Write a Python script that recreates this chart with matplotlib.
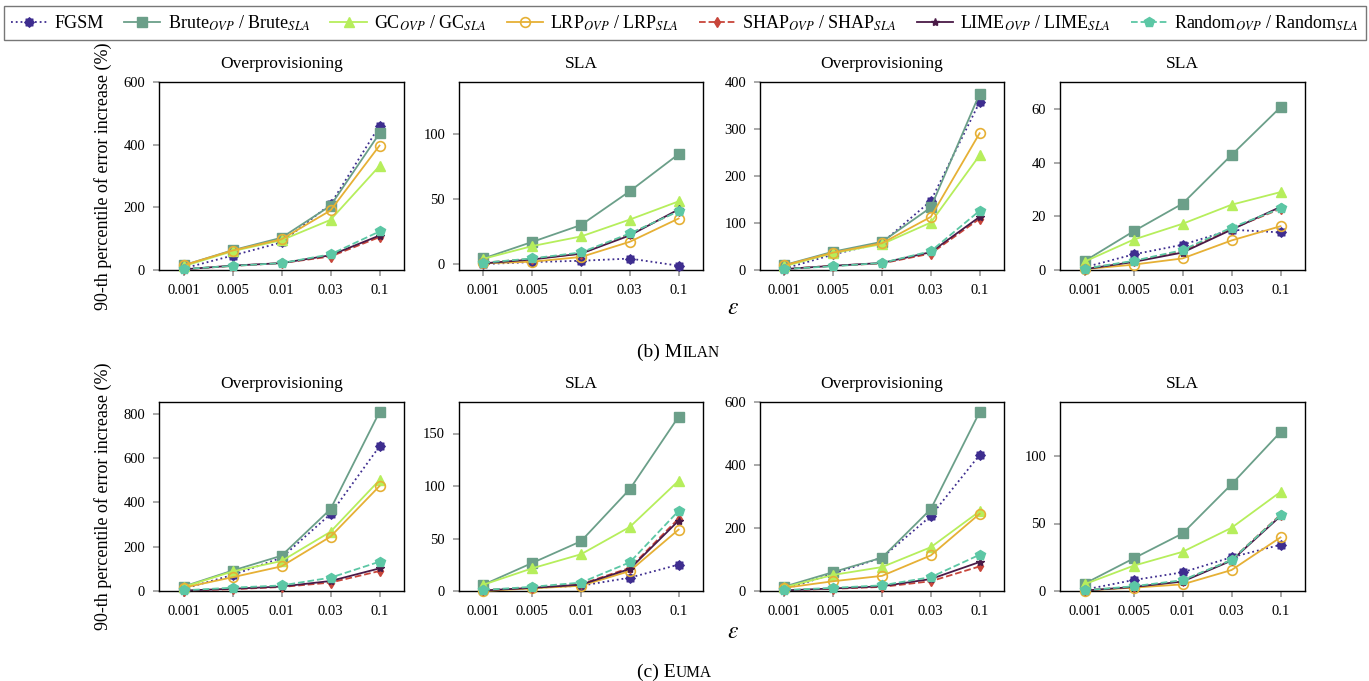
import numpy as np
import matplotlib
matplotlib.use("Agg")
import matplotlib.pyplot as plt
from matplotlib.lines import Line2D

plt.rcParams['font.family'] = ['Liberation Serif', 'DejaVu Serif']
plt.rcParams['mathtext.fontset'] = 'stix'

eps_labels = ["0.001", "0.005", "0.01", "0.03", "0.1"]
methods = ["FGSM", "Brute", "GC", "LRP", "SHAP", "LIME", "Random"]

# (b) MILAN
milan_ovp_1 = {
    "FGSM":   [5, 46, 88, 210, 460],
    "Brute":  [15, 63, 103, 205, 436],
    "GC":     [12, 60, 95, 160, 332],
    "LRP":    [15, 62, 98, 190, 397],
    "SHAP":   [2, 13, 22, 43, 105],
    "LIME":   [2, 14, 22, 47, 110],
    "Random": [3, 13, 22, 50, 123],
}
milan_sla_1 = {
    "FGSM":   [0, 1.5, 2.5, 4.2, -1.3],
    "Brute":  [4.3, 17, 30, 56, 84.5],
    "GC":     [4, 13.8, 21.2, 34.2, 48.2],
    "LRP":    [0.5, 1.8, 5.4, 17.1, 35],
    "SHAP":   [1, 4, 8, 23, 41],
    "LIME":   [0.5, 3.5, 8, 22, 42],
    "Random": [1, 4.3, 8.9, 23.5, 40.6],
}
milan_ovp_2 = {
    "FGSM":   [3, 33, 58, 147, 357],
    "Brute":  [10.6, 39, 60, 133, 375],
    "GC":     [8, 36, 55, 101, 244],
    "LRP":    [10, 37, 57, 113, 291],
    "SHAP":   [2, 9, 14, 35, 109],
    "LIME":   [2, 9, 15, 38, 113],
    "Random": [2, 8, 15, 40, 126],
}
milan_sla_2 = {
    "FGSM":   [1, 5.8, 9.4, 15, 14],
    "Brute":  [3.3, 14.4, 24.7, 42.8, 60.6],
    "GC":     [3.1, 11.3, 17.2, 24.3, 29],
    "LRP":    [0.3, 2, 4.3, 11, 16.3],
    "SHAP":   [0.4, 3.2, 7, 15.3, 22.8],
    "LIME":   [0.3, 3, 6.5, 15, 23.5],
    "Random": [0.5, 3.4, 7.4, 15.8, 22.9],
}

# (c) EUMA
euma_ovp_1 = {
    "FGSM":   [10, 72, 150, 347, 652],
    "Brute":  [20, 92, 159, 369, 807],
    "GC":     [18, 88, 135, 267, 500],
    "LRP":    [15, 62, 111, 245, 473],
    "SHAP":   [2, 8, 18, 38, 90],
    "LIME":   [2, 10, 20, 45, 102],
    "Random": [3, 15, 25, 60, 132],
}
euma_sla_1 = {
    "FGSM":   [0.5, 3, 5, 12.7, 25.1],
    "Brute":  [6, 26.7, 47.4, 97, 166],
    "GC":     [6, 21.6, 35, 61, 105],
    "LRP":    [0, 2.5, 5, 19, 58.5],
    "SHAP":   [1, 3, 6.5, 22, 69],
    "LIME":   [0.5, 3, 6, 21, 67],
    "Random": [1, 4, 8, 27.3, 76.3],
}
euma_ovp_2 = {
    "FGSM":   [5, 55, 106, 238, 432],
    "Brute":  [14, 60, 106, 260, 568],
    "GC":     [12, 51, 76, 139, 253],
    "LRP":    [10, 31, 48, 113, 245],
    "SHAP":   [2, 7, 13, 31, 78],
    "LIME":   [2, 8, 15, 38, 92],
    "Random": [3, 10, 18, 44, 115],
}
euma_sla_2 = {
    "FGSM":   [1, 8.1, 13.8, 25, 34.2],
    "Brute":  [5.4, 24.1, 42.6, 79, 117.7],
    "GC":     [5, 18.7, 29, 46.8, 73.4],
    "LRP":    [0.3, 2.5, 4.9, 15.5, 39.7],
    "SHAP":   [0.5, 3, 7.5, 23, 56.5],
    "LIME":   [0.3, 3, 7, 22.5, 55.5],
    "Random": [0.5, 3.5, 8, 23, 56.2],
}

legend_labels = [
    "FGSM",
    r"Brute$_{OVP}$ / Brute$_{SLA}$",
    r"GC$_{OVP}$ / GC$_{SLA}$",
    r"LRP$_{OVP}$ / LRP$_{SLA}$",
    r"SHAP$_{OVP}$ / SHAP$_{SLA}$",
    r"LIME$_{OVP}$ / LIME$_{SLA}$",
    r"Random$_{OVP}$ / Random$_{SLA}$",
]

# jagged blob for FGSM (like the pgfplots star-ish mark)
ang = np.linspace(0, 2 * np.pi, 17)[:-1]
rad = np.where(np.arange(16) % 2 == 0, 1.0, 0.8)
fgsm_marker = np.column_stack([rad * np.sin(ang), rad * np.cos(ang)])

styles = {
    "FGSM":   dict(color="#3e2d8f", ls=":", marker=fgsm_marker, ms=8, mfc="#3e2d8f", mew=0, lw=1.3),
    "Brute":  dict(color="#6b9f89", ls="-", marker="s", ms=6.5, mfc="#6b9f89", lw=1.3),
    "GC":     dict(color="#b6ee5c", ls="-", marker="^", ms=6.5, mfc="#b6ee5c", lw=1.3),
    "LRP":    dict(color="#e6b035", ls="-", marker="o", ms=7, mfc="none", mew=1.2, lw=1.3),
    "SHAP":   dict(color="#c8453a", ls="--", marker="d", ms=5, mfc="#c8453a", lw=1.3),
    "LIME":   dict(color="#4a1a47", ls="-", marker="*", ms=6, mfc="#4a1a47", lw=1.3),
    "Random": dict(color="#5cc7a5", ls="--", marker="p", ms=7, mfc="#5cc7a5", lw=1.3),
}

panels = [
    (milan_ovp_1, "Overprovisioning", (0, 600), [0, 200, 400, 600]),
    (milan_sla_1, "SLA", (-4.6, 140), [0, 50, 100]),
    (milan_ovp_2, "Overprovisioning", (0, 400), [0, 100, 200, 300, 400]),
    (milan_sla_2, "SLA", (0, 70), [0, 20, 40, 60]),
    (euma_ovp_1, "Overprovisioning", (0, 852), [0, 200, 400, 600, 800]),
    (euma_sla_1, "SLA", (0, 180), [0, 50, 100, 150]),
    (euma_ovp_2, "Overprovisioning", (0, 600), [0, 200, 400, 600]),
    (euma_sla_2, "SLA", (0, 140), [0, 50, 100]),
]

W, H = 1369, 681
fig = plt.figure(figsize=(W / 100, H / 100), dpi=100)

lefts = [159, 459, 760, 1060]
widths = [245, 244, 244, 245]
rows = [(82, 270), (402, 591)]

x = np.arange(len(eps_labels))
for i, (data, title, ylim, yticks) in enumerate(panels):
    r, c = divmod(i, 4)
    top, bot = rows[r]
    ax = fig.add_axes([lefts[c] / W, 1 - bot / H, widths[c] / W, (bot - top) / H])
    for m in methods:
        ax.plot(x, data[m], clip_on=False, zorder=3, **styles[m])
    ax.set_xlim(-0.5, 4.5)
    ax.set_ylim(*ylim)
    ax.set_xticks(x)
    ax.set_xticklabels(eps_labels)
    ax.set_yticks(yticks)
    ax.tick_params(axis="both", labelsize=10.5, color="#999999", length=4,
                   width=1.2, pad=6)
    ax.set_title(title, fontsize=12.5, pad=10)
    for s in ax.spines.values():
        s.set_linewidth(1.0)
    if c == 0:
        ax.set_ylabel("90-th percentile of error increase (%)", fontsize=13, labelpad=8)

# epsilon labels and captions
fig.text(733 / W, 1 - 309 / H, r"$\varepsilon$", fontsize=17, ha="center", va="center")
fig.text(733 / W, 1 - 632 / H, r"$\varepsilon$", fontsize=17, ha="center", va="center")

renderer = fig.canvas.get_renderer()
for cap_big, cap_small, ypx in [("(b) M", "ILAN", 357), ("(c) E", "UMA", 677)]:
    t1 = fig.text(637 / W, 1 - ypx / H, cap_big, fontsize=14, va="baseline")
    bb = t1.get_window_extent(renderer)
    fig.text(bb.x1 / W, 1 - ypx / H, cap_small, fontsize=11.2, va="baseline")

handles = [Line2D([], [], **styles[m]) for m in methods]
leg = fig.legend(handles, legend_labels, loc="lower left", ncol=7, mode="expand",
                 bbox_to_anchor=(4 / W, 1 - 40 / H, 1362 / W, 38 / H),
                 fontsize=13, frameon=True, fancybox=False, handlelength=2.0,
                 handletextpad=0.4, columnspacing=0.4, borderaxespad=0.0,
                 borderpad=0.4)
leg.get_frame().set_edgecolor("#555555")
leg.get_frame().set_linewidth(1.0)

fig.savefig("out.png", dpi=100)
